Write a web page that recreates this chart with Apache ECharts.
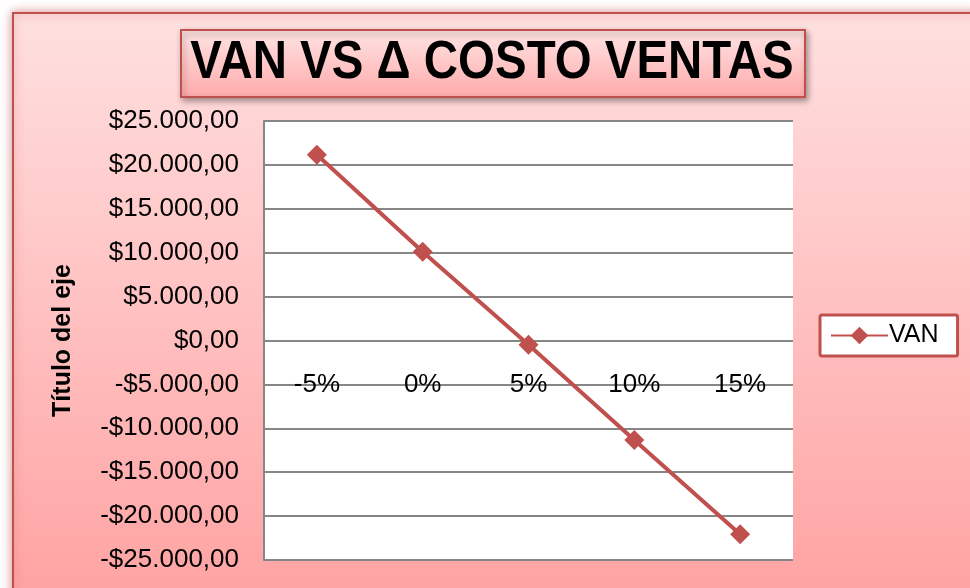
<!DOCTYPE html>
<html>
<head>
<meta charset="utf-8">
<title>VAN VS Δ COSTO VENTAS</title>
<script src="https://cdn.jsdelivr.net/npm/echarts@6/dist/echarts.min.js"></script>
<style>
  html, body { margin: 0; padding: 0; background: #fff; }
  #grafica { width: 970px; height: 588px; }
</style>
</head>
<body>
<div id="grafica"></div>
<script>
const categorias = ["-5%", "0%", "5%", "10%", "15%"];
const van = [21150, 10100, -480, -11330, -22080];
const ejeY = { min: -25000, max: 25000, interval: 5000 };

const rojo = "#c0504d";
const fuente = "Liberation Sans, Arial, sans-serif";

// formato moneda estilo es: $25.000,00
const formatoPesos = (v) => {
  const signo = v < 0 ? "-" : "";
  const entero = Math.abs(v).toFixed(0).replace(/\B(?=(\d{3})+(?!\d))/g, ".");
  return signo + "$" + entero + ",00";
};

const getOptionChart = () => {
  return {
    backgroundColor: "#fff",
    animation: false,
    graphic: [
      {
        type: "rect",
        z: -10,
        shape: { x: 13, y: 13, width: 1000, height: 620 },
        style: {
          fill: new echarts.graphic.LinearGradient(0, 0, 0, 1, [
            { offset: 0, color: "#ffe0e0" },
            { offset: 1, color: "#ff9f9f" },
          ]),
          stroke: rojo,
          lineWidth: 2,
          shadowBlur: 10,
          shadowColor: "rgba(192,80,77,0.6)",
        },
      },
      {
        type: "rect",
        z: 10,
        shape: { x: 181, y: 30, width: 624, height: 67 },
        style: {
          fill: new echarts.graphic.LinearGradient(0, 0, 0, 1, [
            { offset: 0, color: "#ffe4e4" },
            { offset: 1, color: "#ffaaaa" },
          ]),
          stroke: rojo,
          lineWidth: 2,
          shadowBlur: 6,
          shadowOffsetX: 2,
          shadowOffsetY: 3,
          shadowColor: "rgba(0,0,0,0.35)",
        },
      },
      {
        type: "text",
        z: 11,
        x: 492,
        y: 63,
        scaleX: 0.895,
        style: {
          text: "VAN VS Δ COSTO VENTAS",
          font: "bold 53px " + fuente,
          fill: "#000",
          align: "center",
          verticalAlign: "middle",
        },
      },
    ],
    legend: {
      left: 820,
      top: 315,
      backgroundColor: "#fff",
      borderColor: rojo,
      borderWidth: 3,
      borderRadius: 2,
      padding: [8, 19, 8, 10],
      itemWidth: 57,
      itemHeight: 22,
      textStyle: { fontSize: 25, fontFamily: fuente, color: "#000", padding: [0, 0, 0, -4] },
      data: ["VAN"],
    },
    grid: {
      left: 264,
      top: 121,
      width: 529,
      height: 439,
      outerBoundsMode: "none",
      containLabel: false,
      show: true,
      backgroundColor: "#fff",
      borderWidth: 0,
    },
    xAxis: {
      type: "category",
      data: categorias,
      // el eje cruza en 0 (mitad de la rejilla)
      offset: -219.5,
      axisLine: { show: false, onZero: false },
      axisTick: { show: false },
      axisLabel: { fontSize: 26, fontFamily: fuente, color: "#000", margin: 31 },
    },
    yAxis: {
      type: "value",
      min: ejeY.min,
      max: ejeY.max,
      interval: ejeY.interval,
      name: "Título del eje",
      nameLocation: "middle",
      nameGap: 188,
      nameTextStyle: { fontSize: 25, fontWeight: "bold", fontFamily: fuente, color: "#000" },
      axisLine: { show: true, lineStyle: { color: "#868686", width: 2 } },
      axisTick: { show: false },
      splitLine: { lineStyle: { color: "#868686", width: 2 } },
      axisLabel: {
        fontSize: 26,
        fontFamily: fuente,
        color: "#000",
        margin: 25,
        formatter: formatoPesos,
      },
    },
    series: [
      {
        name: "VAN",
        type: "line",
        data: van,
        symbol: "diamond",
        symbolSize: 20,
        itemStyle: { color: rojo },
        lineStyle: { color: rojo, width: 4 },
      },
    ],
  };
};

const initCharts = () => {
  const chart = echarts.init(document.querySelector("#grafica"));
  chart.setOption(getOptionChart());
};

initCharts();
</script>
</body>
</html>
